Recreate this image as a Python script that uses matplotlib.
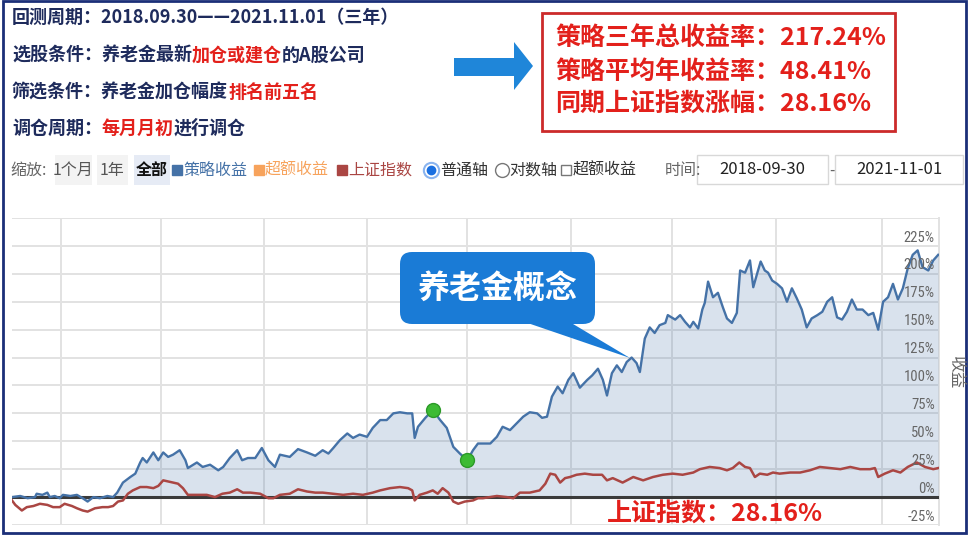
import matplotlib
matplotlib.use('Agg')
import numpy as np
import matplotlib.pyplot as plt
from matplotlib.patches import Rectangle, FancyBboxPatch, Polygon
from matplotlib.lines import Line2D
from matplotlib import font_manager

# values: days since 2018-09-30 and cumulative return in %
strat_days = [0, 10, 19, 28, 30, 37, 43, 46, 52, 58,
              62, 71, 79, 86, 92, 99, 107, 116, 123, 128,
              135, 144, 150, 156, 159, 164, 172, 178, 184, 190,
              196, 204, 211, 214, 225, 232, 241, 251, 257, 265,
              274, 280, 287, 296, 304, 312, 320, 326, 338, 348,
              359, 369, 378, 385, 391, 399, 408, 415, 423, 432,
              439, 448, 456, 464, 472, 481, 487, 490, 494, 503,
              512, 521, 529, 537, 545, 554, 561, 567, 573, 582,
              590, 597, 606, 614, 622, 630, 639, 645, 651, 657,
              664, 670, 677, 683, 691, 700, 706, 713, 719, 724,
              730, 736, 742, 748, 754, 760, 764, 770, 776, 782,
              788, 795, 798, 807, 813, 819, 825, 829, 835, 840,
              843, 847, 853, 859, 865, 870, 876, 882, 886, 892,
              898, 902, 907, 911, 916, 920, 925, 931, 937, 943,
              949, 955, 961, 967, 973, 980, 986, 992, 998, 1004,
              1010, 1016, 1022, 1028, 1035, 1042, 1048, 1054, 1060, 1066,
              1072, 1078, 1084, 1090, 1096, 1102, 1108, 1115, 1121, 1127]
strat_ret = [0, 1, -1, 0, 3, 2, 4, 0, 1, -1,
             2, 1, 2, -1, -4, 0, -1, 1, 0, 4,
             13, 18, 21, 31, 35, 31, 40, 33, 40, 36,
             38, 42, 33, 26, 31, 27, 29, 24, 27, 35,
             42, 33, 35, 35, 44, 33, 27, 38, 36, 43,
             40, 37, 42, 39, 44, 51, 57, 53, 56, 54,
             62, 69, 69, 75, 76, 75, 75, 53, 63, 71,
             78, 69, 62, 45, 39, 33, 42, 48, 48, 48,
             54, 63, 60, 66, 72, 76, 75, 71, 72, 90,
             99, 93, 105, 111, 98, 105, 109, 115, 105, 91,
             111, 118, 112, 121, 125, 120, 112, 142, 152, 147,
             154, 156, 163, 159, 163, 157, 152, 157, 151, 168,
             174, 193, 179, 183, 170, 160, 156, 165, 203, 201,
             212, 188, 201, 211, 203, 201, 194, 191, 187, 175,
             187, 178, 168, 152, 160, 163, 166, 175, 179, 161,
             159, 166, 177, 168, 168, 163, 165, 150, 175, 179,
             191, 177, 187, 205, 217, 221, 206, 203, 212, 217]

index_days = [0, 4, 12, 18, 26, 34, 43, 50, 58, 64,
              73, 79, 86, 92, 101, 110, 117, 123, 129, 135,
              141, 147, 156, 164, 172, 178, 184, 190, 196, 202,
              208, 214, 225, 237, 247, 256, 265, 274, 281, 290,
              302, 312, 318, 326, 338, 348, 359, 369, 378, 391,
              403, 415, 427, 439, 448, 460, 472, 482, 487, 490,
              496, 505, 512, 518, 524, 531, 537, 543, 551, 561,
              567, 573, 590, 602, 610, 618, 630, 642, 649, 655,
              661, 667, 673, 679, 687, 697, 707, 718, 724, 731,
              743, 756, 768, 780, 792, 804, 816, 829, 837, 849,
              861, 870, 877, 885, 892, 898, 904, 910, 919, 926,
              934, 947, 959, 971, 983, 995, 1008, 1020, 1032, 1044,
              1050, 1054, 1062, 1072, 1081, 1090, 1101, 1111, 1121, 1127]
index_ret = [-3, -7, -12, -9, -8, -6, -7, -9, -9, -6,
             -8, -10, -12, -13, -10, -9, -9, -8, -4, -3,
             3, 6, 9, 9, 8, 10, 15, 14, 13, 12,
             8, 2, 2, 2, 0, 3, 4, 7, 4, 4,
             3, -1, -1, 2, 3, 7, 5, 4, 4, 3,
             2, 3, 2, 4, 6, 8, 9, 8, 6, -3,
             2, 4, 6, 3, 8, 4, -4, -6, -4, -3,
             -1, -1, 1, 0, -1, 4, 4, 6, 12, 21,
             20, 13, 17, 18, 20, 21, 20, 20, 15, 17,
             13, 18, 15, 18, 20, 21, 20, 22, 25, 27,
             26, 24, 26, 31, 27, 26, 18, 21, 20, 22,
             21, 22, 22, 24, 27, 26, 25, 27, 25, 25,
             26, 18, 21, 24, 22, 27, 31, 27, 25, 26]

dot_days = [512, 554]          # the two green marks on the strategy curve
grid_days = [60, 181, 307, 432, 554, 680, 803, 930, 1059]
y_ticks = [-25, 0, 25, 50, 75, 100, 125, 150, 175, 200, 225, 250]
total_days = 1128

plt.rcParams['font.family'] = ['Noto Sans CJK SC', 'DejaVu Sans']
names = {f.name for f in font_manager.fontManager.ttflist}
narrow = 'DejaVu Sans'
for cand in ['Liberation Sans Narrow', 'Roboto Condensed', 'Open Sans Condensed', 'DejaVu Sans Condensed']:
    if cand in names:
        narrow = cand
        break

BLUE = '#4572a7'
RED_LINE = '#aa4643'
ORANGE = '#f7a35c'
NAVY = '#1e2b5c'
RED = '#e3201b'

W, H = 970, 540
fig = plt.figure(figsize=(9.7, 5.4), dpi=100)

# ---- chart ----
ax = fig.add_axes([12 / W, 1 - 525 / H, 927 / W, 307 / H])
ax.set_xlim(0, total_days)
ax.set_ylim(-25, 250)
ax.set_xticks(grid_days)
ax.set_yticks(y_ticks)
ax.set_axisbelow(True)
ax.grid(True, color='#e2e2e2', lw=1.4)
ax.tick_params(length=0, labelbottom=False, labelleft=False)
for s in ax.spines.values():
    s.set_visible(False)
ax.axvline(total_days, color='#e2e2e2', lw=1.4, clip_on=False)

ax.fill_between(strat_days, strat_ret, 0, color=BLUE, alpha=0.2, lw=0, zorder=2)
ax.axhline(0, color='#3a3a3a', lw=2.2, zorder=3)
ax.plot(index_days, index_ret, color=RED_LINE, lw=1.8, zorder=4)
ax.plot(strat_days, strat_ret, color=BLUE, lw=1.7, zorder=5)
dot_vals = np.interp(dot_days, strat_days, strat_ret)
ax.plot(dot_days, dot_vals, 'o', ms=10, color='#3dbb34', mec='#2c9a28', zorder=6, clip_on=False)

for v in y_ticks[:-1]:
    ax.annotate(f'{v}%', xy=(1, v), xycoords=('axes fraction', 'data'), xytext=(-3, 1),
                textcoords='offset points', ha='right', va='bottom', fontsize=10.5,
                color='#666666', family=narrow, zorder=7)

# ---- overlay in pixel units for the surrounding page ----
ov = fig.add_axes([0, 0, 1, 1], zorder=10)
ov.set_xlim(0, W)
ov.set_ylim(H, 0)
ov.axis('off')
r = fig.canvas.get_renderer()


def put_line(x, y, parts, size, weight='bold'):
    for s, c in parts:
        t = ov.text(x, y, s, color=c, fontsize=size, fontweight=weight, ha='left', va='center')
        x += t.get_window_extent(renderer=r).width


put_line(12, 17, [('回测周期：2018.09.30——2021.11.01（三年）', NAVY)], 13)
put_line(12, 55, [('选股条件：养老金最新', NAVY), ('加仓或建仓', RED), ('的A股公司', NAVY)], 13)
put_line(12, 92, [('筛选条件：养老金加仓幅度', NAVY), ('排名前五名', RED)], 13)
put_line(12, 128, [('调仓周期：', NAVY), ('每月月初', RED), ('进行调仓', NAVY)], 13)

# arrow and red result box
ov.add_patch(Polygon([(454, 58), (514, 58), (514, 42), (533, 66), (514, 90), (514, 76), (454, 76)],
                     closed=True, fc='#1f86d9', ec='none'))
ov.add_patch(Rectangle((542, 13), 353, 118, fill=False, ec='#cc2a2a', lw=2))
put_line(555, 38, [('策略三年总收益率：217.24%', RED)], 18)
put_line(555, 72, [('策略平均年收益率：48.41%', RED)], 18)
put_line(555, 105, [('同期上证指数涨幅：28.16%', RED)], 18)

# toolbar row
ty = 170
fs = 11.5
ov.text(10, ty, '缩放:', color='#666666', fontsize=fs, va='center')
for x0, x1, lab, bg, wt in [(55, 92, '1个月', '#f3f3f3', 'normal'),
                            (97, 128, '1年', '#f3f3f3', 'normal'),
                            (134, 170, '全部', '#e6ebf5', 'bold')]:
    ov.add_patch(Rectangle((x0, 155), x1 - x0, 30, fc=bg, ec='none'))
    ov.text((x0 + x1) / 2, ty, lab, color='#555555' if wt == 'normal' else '#111111',
            fontsize=fs, fontweight=wt, ha='center', va='center')
for xs, lab, c in [(177, '策略收益', BLUE), (259, '超额收益', ORANGE), (342, '上证指数', RED_LINE)]:
    ov.add_artist(Line2D([xs], [ty], marker='s', ms=7, color=c, lw=0))
    ov.text(xs + 6, ty, lab, color=c, fontsize=fs, ha='left', va='center')
ov.add_artist(Line2D([431], [ty], marker='o', ms=11, mfc='white', mec='#8ab4ef', mew=1.5, lw=0))
ov.add_artist(Line2D([431], [ty], marker='o', ms=6, color='#1a6fe0', lw=0))
ov.text(440, ty, '普通轴', color='#333333', fontsize=fs, va='center')
ov.add_artist(Line2D([502], [ty], marker='o', ms=10, mfc='white', mec='#777777', mew=1, lw=0))
ov.text(509, ty, '对数轴', color='#333333', fontsize=fs, va='center')
ov.add_artist(Line2D([566], [ty], marker='s', ms=7.5, mfc='white', mec='#777777', mew=1, lw=0))
ov.text(573, ty, '超额收益', color='#333333', fontsize=fs, va='center')
ov.text(665, ty, '时间:', color='#666666', fontsize=fs, va='center')
for x0, x1, lab in [(697, 828, '2018-09-30'), (835, 963, '2021-11-01')]:
    ov.add_patch(Rectangle((x0, 155), x1 - x0, 29, fc='white', ec='#d8d8d8', lw=1))
    ov.text((x0 + x1) / 2, ty, lab, color='#222222', fontsize=12, ha='center', va='center')
ov.text(831.5, ty, '-', color='#666666', fontsize=11, ha='center', va='center')

# axis title
ov.text(955, 373, '收益', color='#666666', fontsize=12, rotation=270, ha='center', va='center')

# callout bubble
ov.add_patch(Polygon([(513, 318), (563, 318), (630, 358)], closed=True, fc='#1a7bd6', ec='none'))
ov.add_patch(FancyBboxPatch((400, 252), 195, 72, boxstyle='round,pad=0,rounding_size=12',
                            fc='#1a7bd6', ec='none'))
ov.text(497, 289, '养老金概念', color='white', fontsize=23, fontweight='bold', ha='center', va='center')

# index result under the chart
ov.text(607, 515, '上证指数：28.16%', color=RED, fontsize=18, fontweight='bold', ha='left', va='center')

# page frame
ov.add_patch(Rectangle((3, 1), 963, 532, fill=False, ec='#1b2f78', lw=2))

fig.savefig('out.png', dpi=100)
